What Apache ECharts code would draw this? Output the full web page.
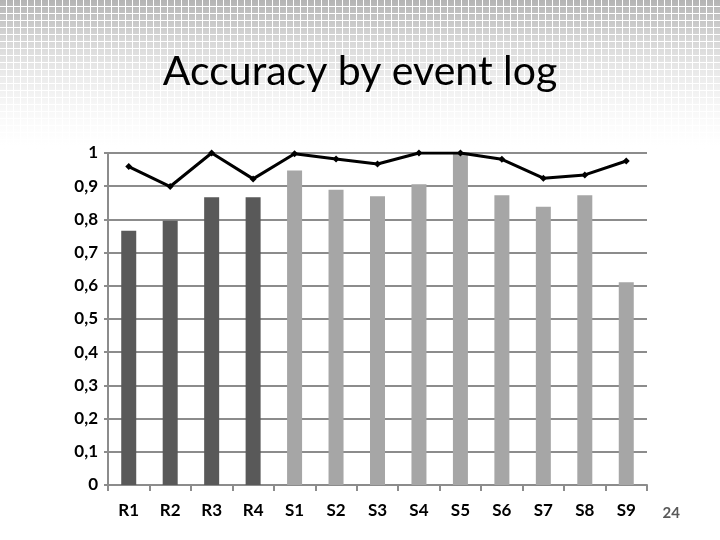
<!DOCTYPE html>
<html>
<head>
<meta charset="utf-8">
<script src="https://cdn.jsdelivr.net/npm/echarts@6/dist/echarts.min.js"></script>
<style>
html,body{margin:0;padding:0;width:720px;height:540px;overflow:hidden;}
body{
  background:
    linear-gradient(to bottom, rgba(255,255,255,0) 0px, rgba(255,255,255,0.25) 50px, rgba(255,255,255,0.6) 100px, rgba(255,255,255,1) 150px),
    repeating-linear-gradient(to right, transparent 0px, transparent 6px, #ffffff 6px, #ffffff 7px),
    repeating-linear-gradient(to bottom, transparent 0px, transparent 6px, #ffffff 6px, #ffffff 7px),
    linear-gradient(to bottom, #b4b4b4 0px, #cdcdcd 40px, #e2e2e2 90px, #f4f4f4 140px, #ffffff 150px);
  background-color:#fff;
}
#chart{width:720px;height:540px;}
</style>
</head>
<body>
<div id="chart"></div>
<script>
var categories = ['R1','R2','R3','R4','S1','S2','S3','S4','S5','S6','S7','S8','S9'];
var barValues = [0.766, 0.796, 0.867, 0.867, 0.947, 0.889, 0.870, 0.906, 0.998, 0.873, 0.838, 0.873, 0.611];
var lineValues = [0.959, 0.899, 1.0, 0.922, 0.998, 0.982, 0.967, 1.0, 1.0, 0.981, 0.924, 0.934, 0.976];
var titleText = 'Accuracy by event log';
var pageNumber = '24';

var chart = echarts.init(document.getElementById('chart'), null, {renderer:'canvas'});
chart.setOption({
  backgroundColor: 'transparent',
  animation: false,
  title: {
    text: titleText,
    left: 'center',
    top: 46,
    textStyle: {fontFamily: 'Lato', fontSize: 41, fontWeight: 'normal', color: '#000'}
  },
  graphic: [{
    type: 'text',
    right: 40,
    bottom: 19,
    style: {text: pageNumber, fontFamily: 'Lato', fontSize: 15, fontWeight: 'bold', fill: '#595959'}
  }],
  grid: {left: 108, right: 73, top: 153, bottom: 55, containLabel: false},
  xAxis: {
    type: 'category',
    data: categories,
    axisLine: {lineStyle: {color: '#8c8c8c', width: 2}},
    axisTick: {show: true, length: 6, lineStyle: {color: '#8c8c8c', width: 2}},
    axisLabel: {margin: 17, fontFamily: 'Lato', fontSize: 17, fontWeight: 'bold', color: '#000'}
  },
  yAxis: {
    type: 'value',
    min: 0, max: 1, interval: 0.1,
    axisLine: {show: true, lineStyle: {color: '#8c8c8c', width: 2}},
    axisTick: {show: true, length: 4, lineStyle: {color: '#8c8c8c', width: 2}},
    splitLine: {lineStyle: {color: '#8c8c8c', width: 2}},
    axisLabel: {
      margin: 10, fontFamily: 'Lato', fontSize: 17, fontWeight: 'bold', color: '#000',
      formatter: function(v){ return (Math.round(v*10)/10).toString().replace('.', ','); }
    }
  },
  series: [{
    type: 'bar',
    data: barValues,
    barWidth: 15,
    itemStyle: {
      color: function(p){ return categories[p.dataIndex].charAt(0) === 'R' ? '#595959' : '#a6a6a6'; }
    }
  }, {
    type: 'line',
    data: lineValues,
    symbol: 'diamond',
    symbolSize: 7,
    lineStyle: {color: '#000', width: 3},
    itemStyle: {color: '#000'}
  }]
});
</script>
</body>
</html>
